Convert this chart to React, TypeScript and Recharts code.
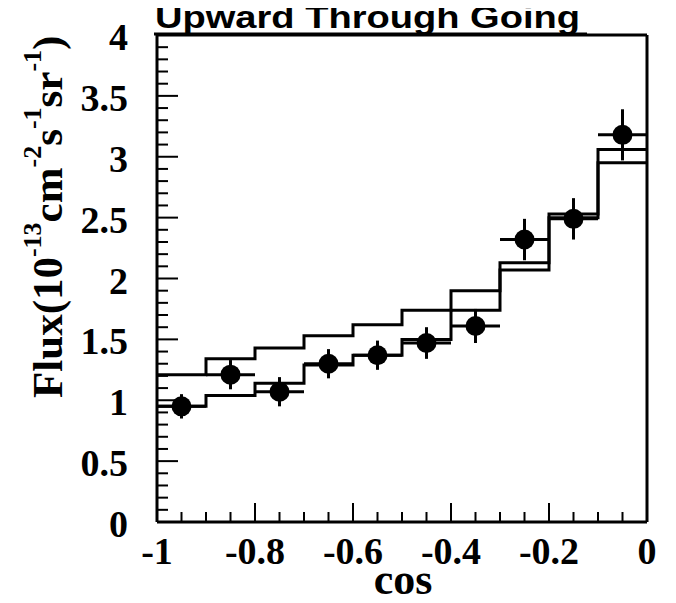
import React from "react";
import {
  ComposedChart,
  Line,
  Scatter,
  ErrorBar,
  XAxis,
  YAxis,
  ReferenceLine,
} from "recharts";

// bin lower edges (cos theta), width 0.1
const binEdges = [-1, -0.9, -0.8, -0.7, -0.6, -0.5, -0.4, -0.3, -0.2, -0.1];
const binCenters = [-0.95, -0.85, -0.75, -0.65, -0.55, -0.45, -0.35, -0.25, -0.15, -0.05];
const upperMC = [1.21, 1.34, 1.43, 1.53, 1.62, 1.74, 1.9, 2.13, 2.53, 3.06];
const lowerMC = [0.95, 1.04, 1.14, 1.29, 1.37, 1.5, 1.74, 2.07, 2.5, 2.95];
const dataFlux = [0.95, 1.21, 1.07, 1.3, 1.37, 1.47, 1.61, 2.32, 2.49, 3.18];
const dataErr = [0.1, 0.12, 0.12, 0.12, 0.12, 0.13, 0.14, 0.17, 0.17, 0.21];
const binHalfWidth = 0.05;

const yMajorTicks = [0, 0.5, 1, 1.5, 2, 2.5, 3, 3.5, 4];
const xMajorTicks = [-1, -0.8, -0.6, -0.4, -0.2, 0];
const yTickLabels = ["0", "0.5", "1", "1.5", "2", "2.5", "3", "3.5", "4"];
const xTickLabels = ["-1", "-0.8", "-0.6", "-0.4", "-0.2", "0"];

const yAllTicks: number[] = [];
for (let i = 0; i <= 40; i++) yAllTicks.push(i / 10);
const xAllTicks: number[] = [];
for (let i = 0; i <= 20; i++) xAllTicks.push(Math.round((-1 + i * 0.05) * 100) / 100);

const stepData = (vals: number[]) => {
  const d = binEdges.map((x, i) => ({ x, y: vals[i] }));
  d.push({ x: 0, y: vals[vals.length - 1] });
  return d;
};

const upperData = stepData(upperMC);
const lowerData = stepData(lowerMC);
const pointData = binCenters.map((x, i) => ({
  x,
  y: dataFlux[i],
  ey: dataErr[i],
  ex: binHalfWidth,
}));

const SERIF = "'Liberation Serif', 'DejaVu Serif', serif";
const SANS = "'Liberation Sans', Arial, sans-serif";

const YTick = (props: any) => {
  const { x, y, payload } = props;
  const v = payload.value as number;
  const idx = yMajorTicks.findIndex((t) => Math.abs(t - v) < 1e-6);
  const major = idx >= 0;
  return (
    <g>
      <line x1={x} y1={y} x2={x + (major ? 21 : 11)} y2={y} stroke="#000" strokeWidth={2} />
      {major && (
        <text
          x={x - 29}
          y={y + 15}
          textAnchor="end"
          fontFamily={SERIF}
          fontWeight="bold"
          fontSize={38}
          fill="#000"
        >
          {yTickLabels[idx]}
        </text>
      )}
    </g>
  );
};

const XTick = (props: any) => {
  const { x, y, payload } = props;
  const v = payload.value as number;
  const idx = xMajorTicks.findIndex((t) => Math.abs(t - v) < 1e-6);
  const major = idx >= 0;
  return (
    <g>
      <line x1={x} y1={y} x2={x} y2={y - (major ? 19 : 10)} stroke="#000" strokeWidth={2} />
      {major && (
        <text
          x={x}
          y={y + 42}
          textAnchor="middle"
          fontFamily={SERIF}
          fontWeight="bold"
          fontSize={38}
          fill="#000"
        >
          {xTickLabels[idx]}
        </text>
      )}
    </g>
  );
};

const Dot = (props: any) => <circle cx={props.cx} cy={props.cy} r={10} fill="#000" />;

export default function App() {
  const sup = 26;
  const up = 21;
  return (
    <div style={{ position: "relative", width: 676, height: 603, left: -8, top: -8 }}>
      <ComposedChart
        width={676}
        height={603}
        margin={{ top: 35, right: 29, bottom: 0, left: 0 }}
      >
        <XAxis
          type="number"
          dataKey="x"
          domain={[-1, 0]}
          ticks={xAllTicks}
          interval={0}
          tick={<XTick />}
          tickLine={false}
          tickSize={0}
          tickMargin={0}
          height={81}
          axisLine={{ stroke: "#000", strokeWidth: 3 }}
          allowDataOverflow
        />
        <YAxis
          type="number"
          domain={[0, 4]}
          ticks={yAllTicks}
          interval={0}
          tick={<YTick />}
          tickLine={false}
          tickSize={0}
          tickMargin={0}
          width={157}
          axisLine={{ stroke: "#000", strokeWidth: 3 }}
          allowDataOverflow
        />
        <ReferenceLine y={4} stroke="#000" strokeWidth={3} />
        <ReferenceLine x={0} stroke="#000" strokeWidth={3} />
        <Line
          data={upperData}
          dataKey="y"
          type="stepAfter"
          stroke="#000"
          strokeWidth={3}
          dot={false}
          isAnimationActive={false}
        />
        <Line
          data={lowerData}
          dataKey="y"
          type="stepAfter"
          stroke="#000"
          strokeWidth={3}
          dot={false}
          isAnimationActive={false}
        />
        <Scatter data={pointData} dataKey="y" shape={<Dot />} isAnimationActive={false}>
          <ErrorBar dataKey="ey" direction="y" width={0} stroke="#000" strokeWidth={3} />
          <ErrorBar dataKey="ex" direction="x" width={0} stroke="#000" strokeWidth={3} />
        </Scatter>
      </ComposedChart>
      <svg
        width={676}
        height={603}
        style={{ position: "absolute", left: 0, top: 0, pointerEvents: "none" }}
      >
        <text
          x={155}
          y={28}
          fontFamily={SANS}
          fontWeight="bold"
          fontSize={32}
          textLength={425}
          lengthAdjust="spacingAndGlyphs"
          fill="#000"
        >
          Upward Through Going
        </text>
        <line x1={154} y1={34} x2={587} y2={34} stroke="#000" strokeWidth={3} />
        <text
          transform="translate(62,398) rotate(-90)"
          fontFamily={SERIF}
          fontWeight="bold"
          fontSize={43}
          fill="#000"
        >
          <tspan>Flux(10</tspan>
          <tspan dy={-up} fontSize={sup}>-13</tspan>
          <tspan dy={up}>cm</tspan>
          <tspan dy={-up} fontSize={sup}>-2</tspan>
          <tspan dy={up}>s</tspan>
          <tspan dy={-up} fontSize={sup}>-1</tspan>
          <tspan dy={up}>sr</tspan>
          <tspan dy={-up} fontSize={sup}>-1</tspan>
          <tspan dy={up}>)</tspan>
        </text>
        <text
          x={403}
          y={594}
          textAnchor="middle"
          fontFamily={SERIF}
          fontWeight="bold"
          fontSize={44}
          fill="#000"
        >
          cos
        </text>
      </svg>
    </div>
  );
}
